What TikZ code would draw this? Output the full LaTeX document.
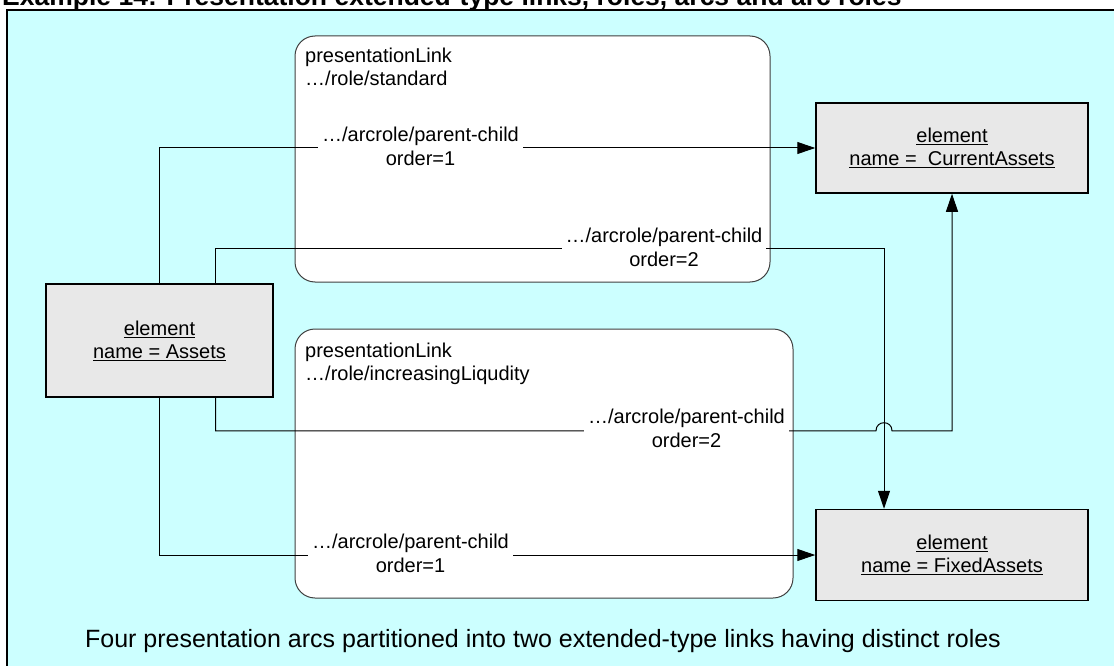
\documentclass[tikz,border=0pt]{standalone}
\usepackage{fontspec}
\setmainfont{Liberation Sans}
\usetikzlibrary{arrows.meta,calc}
\definecolor{panelcyan}{RGB}{204,255,255}
\definecolor{elemgray}{RGB}{232,232,232}
\definecolor{linkedge}{RGB}{64,64,64}

\begin{document}
\begin{tikzpicture}[x=1pt,y=-1pt,
  font=\fontsize{20}{23}\selectfont,
  elembox/.style={draw=black, line width=1.5pt, fill=elemgray, align=center, inner sep=0pt},
  linkbox/.style={draw=linkedge, line width=1pt, fill=white, rounded corners=20pt, inner sep=0pt},
  conn/.style={draw=black, line width=1pt},
  arr/.style={-{Triangle[length=18pt,width=12pt]}},
  arclabel/.style={fill=white, inner xsep=4pt, inner ysep=1pt, align=center,
    font=\fontsize{20}{24}\selectfont, yshift=2pt},
  linktext/.style={anchor=base west, inner sep=0pt},
]
\path[use as bounding box] (0,0) rectangle (1114,666);
\clip (0,0) rectangle (1114,666);

% heading, partly above the page edge
\node[anchor=base west, inner sep=0pt, font=\fontsize{26.5}{30}\selectfont\bfseries] (heading) at (2,6)
  {Example 14: Presentation extended-type links, roles, arcs and arc roles};

% panel
\draw[line width=2pt, fill=panelcyan] (7,10) rectangle (1140,690);

% extended-type links
\node[linkbox, minimum width=475pt, minimum height=246pt] (stdlink) at (532.5,159) {};
\node[linkbox, minimum width=498pt, minimum height=269pt] (liqlink) at (544,463.5) {};
\node[linktext] (stdname) at (305,62.7) {presentationLink};
\node[linktext] (stdrole) at (305,86) {…/role/standard};
\node[linktext] (liqname) at (305,357.5) {presentationLink};
\node[linktext] (liqrole) at (305,380.5) {…/role/increasingLiqudity};

% elements
\node[elembox, minimum width=227pt, minimum height=113pt] (assets) at (159.5,340.5)
  {\underline{element}\\\underline{name = Assets}};
\node[elembox, minimum width=272pt, minimum height=90pt] (current) at (952,148)
  {\underline{element}\\\underline{name =\ \ CurrentAssets}};
\node[elembox, minimum width=272pt, minimum height=91pt] (fixed) at (952,555)
  {\underline{element}\\\underline{name = FixedAssets}};

% bend points
\coordinate (hiB) at ($([xshift=56pt]assets.north)+(0,-35)$);
\coordinate (loB) at ($([xshift=56pt]assets.south)+(0,33)$);
\coordinate (drop) at ([xshift=-68pt]fixed.north);
\coordinate (hopC) at (drop |- loB);
\coordinate (hopL) at ($(hopC)+(-8,0)$);
\coordinate (hopR) at ($(hopC)+(8,0)$);

% presentation arcs
\draw[conn, arr] (assets.north) |- (current.west);
\draw[conn, arr] ([xshift=56pt]assets.north) -- (hiB) -| (drop);
\draw[conn, arr] ([xshift=56pt]assets.south) -- (loB) -- (hopL)
  .. controls ($(hopL)+(0,-10.7)$) and ($(hopR)+(0,-10.7)$) .. (hopR) -| (current.south);
\draw[conn, arr] (assets.south) |- (fixed.west);

% arc labels, centred on their arcs
\node[arclabel] (arc1) at (assets.north |- current.west) [xshift=261pt] {…/arcrole/parent-child\\order=1};
\node[arclabel] (arc2) at (664,249) {…/arcrole/parent-child\\order=2};
\node[arclabel] (arc3) at (686.5,430) {…/arcrole/parent-child\\order=2};
\node[arclabel] (arc4) at (410.5,555) {…/arcrole/parent-child\\order=1};

% caption
\node[anchor=base, inner sep=0pt, font=\fontsize{25}{29}\selectfont] (caption) at (543,647)
  {Four presentation arcs partitioned into two extended-type links having distinct roles};
\end{tikzpicture}
\end{document}
